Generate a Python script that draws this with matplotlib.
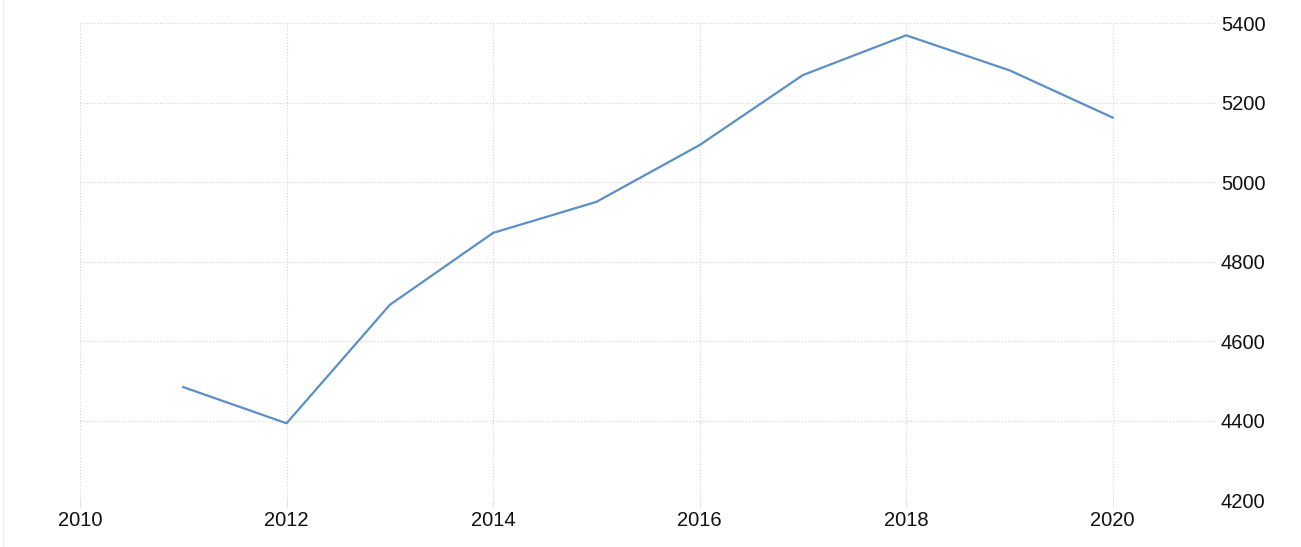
import matplotlib.pyplot as plt
from matplotlib.lines import Line2D

# dati
anni = [2011, 2012, 2013, 2014, 2015, 2016, 2017, 2018, 2019, 2020]
valori = [4484, 4393, 4691, 4872, 4950, 5093, 5269, 5369, 5281, 5162]
x_ticks = [2010, 2012, 2014, 2016, 2018, 2020]
y_ticks = [4200, 4400, 4600, 4800, 5000, 5200, 5400]

plt.rcParams["font.family"] = ["Liberation Sans", "DejaVu Sans"]

fig = plt.figure(figsize=(13.01, 5.47), dpi=100)
ax = fig.add_axes([80 / 1301, 1 - 500 / 547, (1216 - 80) / 1301, (500 - 23) / 547])

ax.plot(anni, valori, color="#5b8fc5", linewidth=1.6, solid_joinstyle="miter")

ax.set_xlim(2010, 2021)
ax.set_ylim(4200, 5400)
ax.set_xticks(x_ticks)
ax.set_yticks(y_ticks)

ax.grid(True, linestyle=":", color="#d4d4d4", linewidth=0.8)
for s in ax.spines.values():
    s.set_visible(False)

ax.yaxis.tick_right()
ax.tick_params(axis="y", length=0, pad=3.5, labelsize=14.5, labelcolor="#111111")
ax.tick_params(axis="x", length=5, color="#e0e0e0", pad=3, labelsize=14.5, labelcolor="#111111")
for lab in ax.get_yticklabels():
    lab.set_horizontalalignment("left")

# bordino sottile a sinistra
fig.add_artist(Line2D([3 / 1301, 3 / 1301], [0, 1], color="#eeeeee", linewidth=1))

fig.savefig("out.png", dpi=100)
